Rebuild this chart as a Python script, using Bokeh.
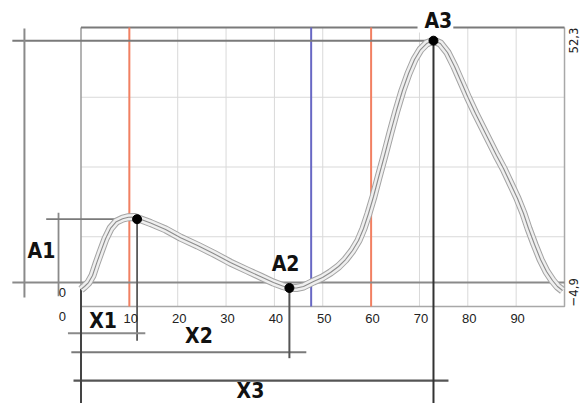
from bokeh.plotting import figure
from bokeh.models import Range1d
from bokeh.core.properties import value
from bokeh.embed import file_html
from bokeh.resources import INLINE

# ---------------- data ----------------
curve_x = [0.0, 0.72, 1.55, 2.38, 3.2, 4.03, 5.07, 6.1, 7.3, 8.6, 9.8, 11.1, 12.3, 14.4,
           17.5, 20.6, 24.1, 27.4, 30.9, 34.4, 37.1, 39.8, 41.7, 43.1, 44.57, 46.02, 48.09,
           49.95, 51.6, 53.26, 54.71, 56.15, 57.39, 58.43, 59.46, 60.50, 61.53, 62.77, 64.01,
           65.25, 66.49, 67.74, 68.98, 70.22, 71.46, 72.91, 74.33, 75.80, 77.25, 78.70, 80.14,
           81.59, 83.04, 84.49, 85.94, 87.38, 88.83, 90.28, 91.52, 92.56, 93.80, 95.04, 96.28,
           97.52, 98.55, 99.59]
curve_y = [-1.4, -0.8, 0.0, 1.46, 3.9, 6.2, 9.0, 11.1, 12.5, 13.1, 13.4, 13.45, 13.0, 12.2,
           10.9, 9.2, 7.6, 5.97, 4.1, 2.48, 1.25, 0.0, -0.7, -1.1, -1.11, -0.80, 0.23,
           1.05, 2.07, 3.30, 4.73, 6.58, 8.63, 11.09, 14.17, 17.65, 21.55, 26.06, 30.77,
           35.28, 39.39, 42.87, 45.74, 47.79, 49.02, 49.64, 49.02, 47.18, 44.30, 41.02, 37.74,
           34.67, 31.80, 28.93, 26.06, 23.39, 20.32, 17.24, 14.17, 11.09, 7.81, 4.74, 2.28,
           0.43, -0.80, -1.62]

x_lo, x_hi = 0, 100
y_lo, y_hi = -4.9, 52.3
y_lo_label, y_hi_label = "\u22124,9", "52,3"

x_ticks = [10, 20, 30, 40, 50, 60, 70, 80, 90]
x_tick_labels = ["10", "20", "30", "40", "50", "60", "70", "80", "90"]
grid_y = [9.4, 23.7, 38.0]

red_x = [10, 60]
blue_x = [47.6]

marker_names = ["A1", "A2", "A3"]
marker_x = [11.6, 43.1, 72.9]
marker_y = [13.0, -1.1, 49.6]

# dimension-line levels (outside the plot box)
a3_dim_x = -11.7
a1_dim_x = -4.65
x1_level, x2_level, x3_level = -10.4, -14.3, -20.1
bottom_y = -26.0

# ---------------- figure ----------------
p = figure(width=582, height=403, output_backend="svg", toolbar_location=None,
           x_range=Range1d(-16.65, 103.72), y_range=Range1d(-24.79, 57.84),
           x_axis_location=None, y_axis_location=None, min_border=0,
           background_fill_color="white", border_fill_color="white")
p.outline_line_color = None
p.grid.visible = False

NARROW_B = value("Liberation Sans Narrow, DejaVu Sans Condensed, Roboto, sans-serif")
REG = value("Liberation Sans, Arial, sans-serif")
NARROW = value("Liberation Sans Narrow, DejaVu Sans Condensed, Roboto, sans-serif")

# grid
p.segment(x0=x_ticks, y0=[y_lo] * len(x_ticks), x1=x_ticks, y1=[y_hi] * len(x_ticks),
          line_color="#d9d9d9", line_width=1)
p.segment(x0=[x_lo] * 3, y0=grid_y, x1=[x_hi] * 3, y1=grid_y, line_color="#d9d9d9", line_width=1)

# box
p.line([x_hi, x_hi, x_lo], [y_hi, y_lo, y_lo], line_color="#a8a8a8", line_width=1.5)
p.line([x_lo, x_lo], [y_lo, y_hi], line_color="#9a9a9a", line_width=1.5)
p.line([x_lo, x_hi], [y_hi, y_hi], line_color="#7a7a7a", line_width=2.2)

# colored markers
p.segment(x0=red_x, y0=[y_lo] * 2, x1=red_x, y1=[y_hi] * 2, line_color="#f28062", line_width=2)
p.segment(x0=blue_x, y0=[y_lo], x1=blue_x, y1=[y_hi], line_color="#6868c4", line_width=2)

# dimension lines
a1x, a2x, a3x = marker_x
a1y, a2y, a3y = marker_y
gx0 = [x_lo - 14.2, x_lo - 14.2, a3_dim_x, a1_dim_x, -7.2, a1x, -2.7, -2.0, a2x, -1.55, x_lo, a3x]
gy0 = [0, a3y, -3.05, -2.8, a1y, a1y, x1_level, x2_level, a2y, x3_level, -1.2, a3y]
gx1 = [x_hi, a3x, a3_dim_x, a1_dim_x, a1x, a1x, 13.3, 46.6, a2x, 76.0, x_lo, a3x]
gy1 = [0, a3y, 52.1, 14.3, a1y, -11.9, x1_level, x2_level, -15.5, x3_level, bottom_y, bottom_y]
gc = ["#8a8a8a", "#7a7a7a", "#8a8a8a", "#8a8a8a", "#7a7a7a", "#5a5a5a", "#8a8a8a", "#7a7a7a",
      "#555555", "#555555", "#444444", "#333333"]
gw = [2, 2, 2, 1.8, 1.8, 1.8, 2, 2, 2, 2.4, 2, 2]
p.segment(x0=gx0, y0=gy0, x1=gx1, y1=gy1, line_color=gc, line_width=gw)

# white patch behind A3 label over top border
p.quad(left=[69.6], right=[77.0], bottom=[y_hi - 1.0], top=[y_hi + 1.0],
       fill_color="white", line_color=None)

# curve as triple line band
p.line(curve_x, curve_y, line_color="#a4a4a4", line_width=8, line_join="round")
p.line(curve_x, curve_y, line_color="#efefef", line_width=6, line_join="round")
p.line(curve_x, curve_y, line_color="#8c8c8c", line_width=1.1, line_join="round")

# points
p.scatter(marker_x, marker_y, size=9, color="black")

# tick labels
p.text(x=[t + 0.3 for t in x_ticks], y=[-7.26] * len(x_ticks), text=x_tick_labels,
       text_font=REG, text_font_size="13px", text_color="#222222",
       text_align="center", text_baseline="middle")
p.text(x=[-3.83, -3.83], y=[-2.13, -7.05], text=["0", "0"],
       text_font=REG, text_font_size="13px", text_color="#222222",
       text_align="center", text_baseline="middle")

# right labels (rotated)
p.text(x=[101.9], y=[y_hi], text=[y_hi_label], angle=1.5708, text_font=NARROW,
       text_font_size="13px", text_color="#222222", text_align="right", text_baseline="middle")
p.text(x=[101.9], y=[y_lo], text=[y_lo_label], angle=1.5708, text_font=NARROW,
       text_font_size="13px", text_color="#222222", text_align="left", text_baseline="middle")

# bold labels
lab_txt = ["A1", "X1", "X2", "X3", "A2", "A3"]
lab_x = [-8.17, 4.55, 24.4, 35.05, 42.3, 73.9]
lab_y = [6.58, -7.87, -11.05, -22.25, 3.81, 53.6]
p.text(x=lab_x, y=lab_y, text=lab_txt, text_font=NARROW_B, text_font_style="bold",
       text_font_size="21px", text_color="#111111", text_align="center", text_baseline="middle")

open("out.html", "w").write(file_html(p, INLINE))
